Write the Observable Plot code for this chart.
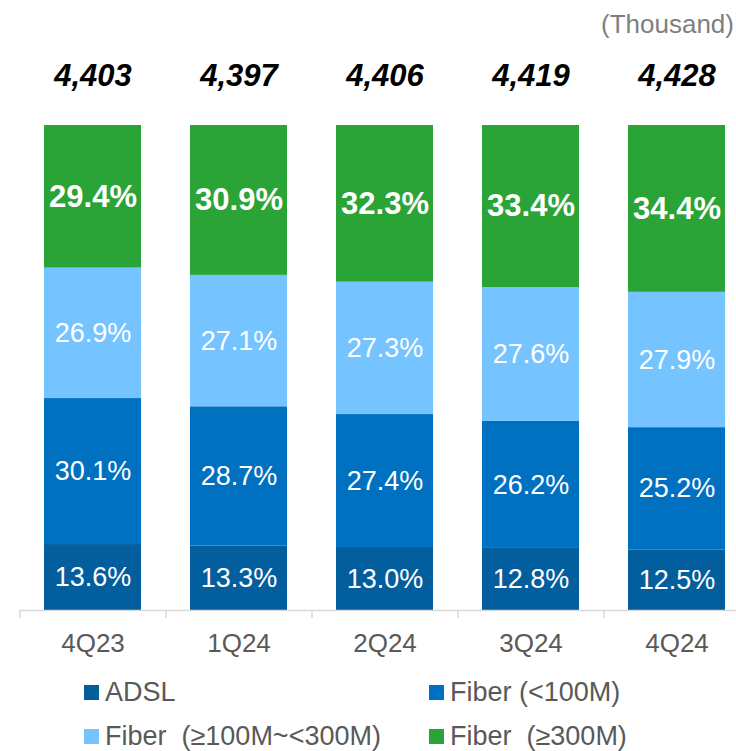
<!DOCTYPE html>
<html>
<head>
<meta charset="utf-8">
<script src="https://cdn.jsdelivr.net/npm/d3@7"></script>
<script src="https://cdn.jsdelivr.net/npm/@observablehq/plot@0.6"></script>
<style>
  html, body { margin: 0; padding: 0; background: #fff; }
  body { width: 736px; height: 751px; overflow: hidden; font-family: "Liberation Sans", Arial, sans-serif; }
  #unit { height: 42px; box-sizing: border-box; padding-top: 12px; padding-right: 2px; text-align: right; font-size: 26px; line-height: 25px; color: #7f7f7f; }
  #legend { position: relative; height: 89px; }
  .item { position: absolute; font-size: 27px; line-height: 27px; color: #595959; white-space: pre; }
  .sw { display: inline-block; width: 15px; height: 15px; margin-right: 6px; margin-bottom: 1px; vertical-align: baseline; }
</style>
</head>
<body>
<div id="unit">(Thousand)</div>
<div id="chart"></div>
<div id="legend"></div>
<script>
const quarters = ["4Q23", "1Q24", "2Q24", "3Q24", "4Q24"];
const totals = ["4,403", "4,397", "4,406", "4,419", "4,428"];
const seriesNames = ["ADSL", "Fiber (<100M)", "Fiber  (≥100M~<300M)", "Fiber  (≥300M)"];
const seriesColors = ["#035E9D", "#0070C0", "#75C4FF", "#2AA337"];
const adsl = [13.6, 13.3, 13.0, 12.8, 12.5];
const fiberLow = [30.1, 28.7, 27.4, 26.2, 25.2];
const fiberMid = [26.9, 27.1, 27.3, 27.6, 27.9];
const fiberHigh = [29.4, 30.9, 32.3, 33.4, 34.4];

const seriesValues = [adsl, fiberLow, fiberMid, fiberHigh];
const data = [];
seriesNames.forEach((s, si) => {
  quarters.forEach((q, qi) => {
    data.push({quarter: q, series: s, value: seriesValues[si][qi], idx: si});
  });
});
const totalRows = quarters.map((q, i) => ({quarter: q, total: totals[i]}));

const font = '"Liberation Sans", Arial, sans-serif';
const chart = Plot.plot({
  width: 736,
  height: 620,
  marginTop: 83,
  marginBottom: 52,
  marginLeft: 19,
  marginRight: 0,
  style: {fontFamily: font, background: "#fff", overflow: "visible"},
  x: {domain: quarters, range: [19, 750], paddingInner: 0.336, paddingOuter: 0.168, label: null},
  y: {domain: [0, 100], axis: null},
  color: {domain: seriesNames, range: seriesColors},
  marks: [
    Plot.barY(data, {x: "quarter", y: "value", fill: "series", order: seriesNames}),
    Plot.ruleY([0], {stroke: "#d9d9d9", strokeWidth: 1.5}),
    Plot.ruleX(quarters, {x: d => d, dx: -73, insetTop: 485, insetBottom: -8, stroke: "#d9d9d9", strokeWidth: 1.5}),
    Plot.text(data, Plot.stackY({
      x: "quarter", y: "value", z: "series", order: seriesNames,
      text: d => d.idx < 3 ? d.value.toFixed(1) + "%" : "",
      fill: "white", fontSize: 27
    })),
    Plot.text(data, Plot.stackY({
      x: "quarter", y: "value", z: "series", order: seriesNames,
      text: d => d.idx === 3 ? d.value.toFixed(1) + "%" : "",
      fill: "white", fontSize: 31, fontWeight: "bold"
    })),
    Plot.text(totalRows, {x: "quarter", y: 100, text: "total", dy: -49, fontSize: 31, fontWeight: "bold", fontStyle: "italic", fill: "#000"}),
    Plot.axisX({tickSize: 0, tickPadding: 23, fontSize: 26, color: "#595959", fill: "#595959"})
  ]
});
document.getElementById("chart").appendChild(chart);

const legend = document.getElementById("legend");
const pos = [[84, 17], [429, 17], [84, 61], [429, 61]];
seriesNames.forEach((s, i) => {
  const el = document.createElement("div");
  el.className = "item";
  el.style.left = pos[i][0] + "px";
  el.style.top = pos[i][1] + "px";
  const sw = document.createElement("span");
  sw.className = "sw";
  sw.style.background = seriesColors[i];
  el.appendChild(sw);
  el.appendChild(document.createTextNode(s));
  legend.appendChild(el);
});
</script>
</body>
</html>
